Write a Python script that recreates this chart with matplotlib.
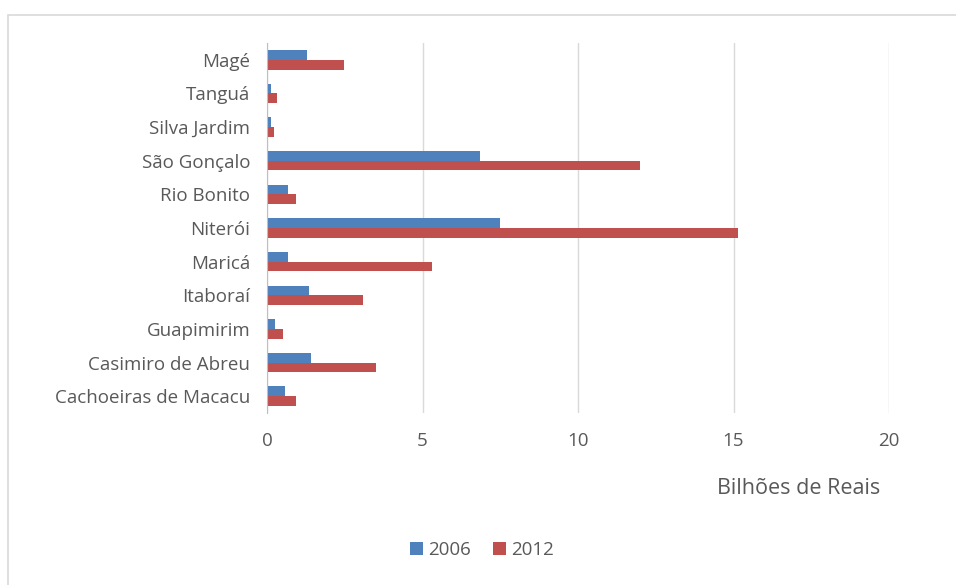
import numpy as np
import matplotlib.pyplot as plt
from matplotlib.patches import Rectangle

# municipalities (top to bottom as shown)
cities = ['Magé', 'Tanguá', 'Silva Jardim', 'São Gonçalo', 'Rio Bonito', 'Niterói',
          'Maricá', 'Itaboraí', 'Guapimirim', 'Casimiro de Abreu', 'Cachoeiras de Macacu']
v2006 = [1.30, 0.12, 0.12, 6.85, 0.69, 7.48, 0.69, 1.36, 0.26, 1.40, 0.58]
v2012 = [2.49, 0.33, 0.22, 12.0, 0.94, 15.15, 5.32, 3.10, 0.52, 3.51, 0.94]
years = ['2006', '2012']
xticks = [0, 5, 10, 15, 20]

plt.rcParams['font.family'] = ['Open Sans', 'DejaVu Sans']
text_col = '#595959'

fig = plt.figure(figsize=(9.56, 5.85), dpi=100)
W, H = 956, 585
ax = fig.add_axes([267 / W, 1 - 413 / H, (889 - 267) / W, (413 - 43) / H])

# outer chart border
fig.patches.append(Rectangle((8 / W, -0.1), 1.2, 1 - 15 / H + 0.1, transform=fig.transFigure,
                             fill=False, edgecolor='#d9d9d9', linewidth=1.2))

y = np.arange(len(cities))[::-1]
h = 0.29
ax.barh(y + h / 2, v2006, height=h, color='#4F81BD', label=years[0])
ax.barh(y - h / 2, v2012, height=h, color='#C0504D', label=years[1])

ax.set_xlim(0, 20)
ax.set_ylim(-0.5, len(cities) - 0.5)
ax.set_xticks(xticks)
ax.set_yticks(y)
ax.set_yticklabels(cities)
ax.tick_params(axis='both', length=0, labelsize=13.5, labelcolor=text_col)
ax.tick_params(axis='x', pad=14)
ax.tick_params(axis='y', pad=12)
ax.grid(axis='x', color='#d9d9d9', linewidth=1)
ax.set_axisbelow(True)
for s in ['top', 'right', 'bottom']:
    ax.spines[s].set_visible(False)
ax.spines['left'].set_color('#bfbfbf')

fig.text(880 / W, 1 - 488 / H, 'Bilhões de Reais', ha='right', va='center',
         fontsize=15.5, color=text_col)

fig.legend(loc='center', bbox_to_anchor=(482 / W, 1 - 550 / H), ncol=2, frameon=False,
           fontsize=13.5, labelcolor=text_col, handlelength=0.7, handleheight=0.7,
           handletextpad=0.25, columnspacing=1.2)

fig.savefig('out.png', dpi=100)
